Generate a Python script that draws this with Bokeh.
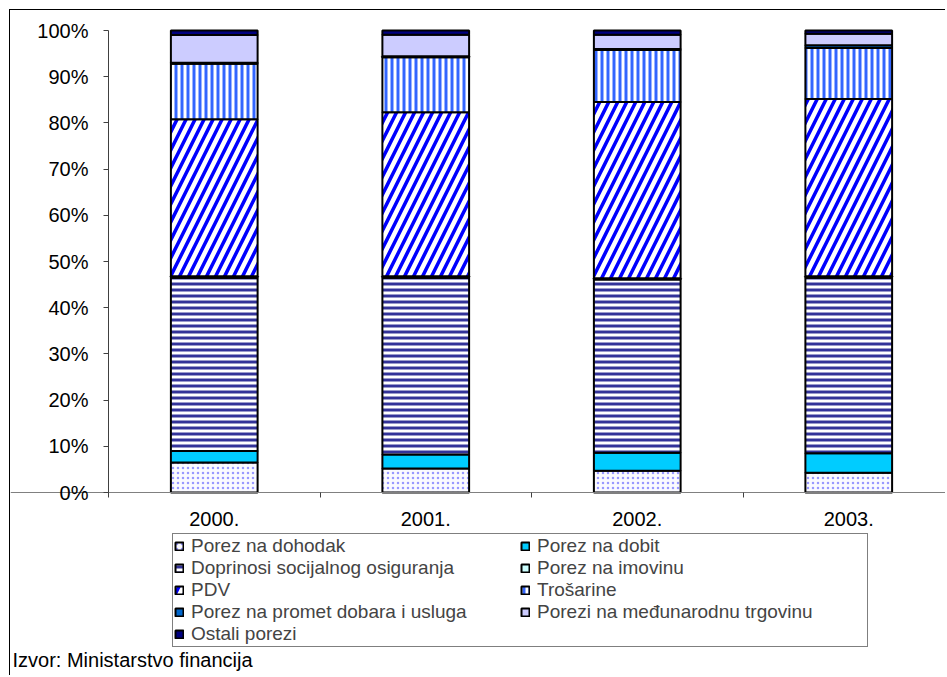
from bokeh.plotting import figure
from bokeh.models import (ColumnDataSource, Range1d, FixedTicker, NumeralTickFormatter,
                          Legend, LegendItem, Label)
from bokeh.embed import file_html
from bokeh.resources import INLINE

# ---------------- data (percent shares of total tax revenue) ----------------
years = ["2000.", "2001.", "2002.", "2003."]
series_names = ["Porez na dohodak", "Porez na dobit", "Doprinosi socijalnog osiguranja",
                "Porez na imovinu", "PDV", "Trošarine", "Porez na promet dobara i usluga",
                "Porezi na međunarodnu trgovinu", "Ostali porezi"]
porez_na_dohodak = [6.5, 5.2, 4.7, 4.3]
porez_na_dobit = [2.5, 3.0, 3.9, 4.2]
doprinosi = [37.5, 38.3, 37.5, 38.0]
porez_na_imovinu = [0.3, 0.3, 0.3, 0.3]
pdv = [34.0, 35.5, 38.1, 38.4]
trosarine = [12.0, 11.9, 11.3, 11.0]
porez_na_promet = [0.2, 0.2, 0.2, 0.6]
medunarodna_trgovina = [6.0, 4.7, 3.1, 2.5]
ostali_porezi = [1.0, 0.9, 0.9, 0.7]
source_note = "Izvor: Ministarstvo financija"

values = [porez_na_dohodak, porez_na_dobit, doprinosi, porez_na_imovinu, pdv,
          trosarine, porez_na_promet, medunarodna_trgovina, ostali_porezi]

# 100 % stacked: normalise every year to its total
totals = [sum(v[i] for v in values) for i in range(len(years))]
keys = ["s%d" % k for k in range(len(values))]
data = {"x": [i + 0.5 for i in range(len(years))]}
for k, v in zip(keys, values):
    data[k] = [v[i] / totals[i] for i in range(len(years))]
src = ColumnDataSource(data)

# ---------------- layout (pixels) ----------------
W, H = 936, 666            # canvas placed at (10, 10) on the page
AXIS_X = 98                # y axis position inside the canvas
CAT_PX = 211.5             # width of one category
TOP_PX = 20                # 100 % line below the canvas top
ZERO_PX = 482              # 0 % line below the canvas top
PCT_PX = ZERO_PX - TOP_PX

x_range = Range1d(-AXIS_X / CAT_PX, (W - AXIS_X) / CAT_PX)
y_range = Range1d(-(H - ZERO_PX) / PCT_PX, 1 + TOP_PX / PCT_PX)

# ---------------- styles ----------------
fills = ["#FAFAFF", "#00CCFF", "white", "#CCFFFF", "white", "white", "#0066CC", "#CCCCFF", "#000080"]
hatches = [".", " ", "-", " ", "/", "|", " ", " ", " "]
hatch_colors = ["#9999FF", "black", "#333399", "black", "#0000FF", "#3366FF", "black", "black", "black"]
hatch_scales = [5, 6, 6, 6, 18, 6, 6, 6, 6]
hatch_weights = [3, 1, 3, 1, 3.5, 3, 1, 1, 1]

p = figure(width=W, height=H, output_backend="svg", toolbar_location=None,
           x_range=x_range, y_range=y_range,
           min_border_left=0, min_border_right=0, min_border_top=0, min_border_bottom=0)
p.styles = {"margin-left": "9px", "margin-top": "9px",
            "border-left": "1px solid black", "border-top": "1px solid black"}
p.outline_line_color = None
p.xgrid.visible = False
p.ygrid.visible = False
p.background_fill_color = "white"
p.border_fill_color = "white"

renderers = p.vbar_stack(keys, x="x", width=0.41, source=src,
                         fill_color=fills, line_color="black", line_width=2,
                         hatch_pattern=hatches, hatch_color=hatch_colors,
                         hatch_scale=hatch_scales, hatch_weight=hatch_weights)

# ---------------- axes ----------------
yax = p.yaxis[0]
yax.fixed_location = 0
yax.bounds = (0, 1)
yax.ticker = FixedTicker(ticks=[i / 10 for i in range(11)])
yax.formatter = NumeralTickFormatter(format="0%")
yax.axis_line_color = "#404040"
yax.major_tick_line_color = "#404040"
yax.major_tick_out = 5
yax.major_tick_in = 0
yax.minor_tick_out = 0
yax.minor_tick_in = 0
yax.major_label_standoff = 15
yax.major_label_text_font = "Liberation Sans"
yax.major_label_text_font_size = "20px"
yax.major_label_text_color = "black"

xax = p.xaxis[0]
xax.fixed_location = 0
centers = [i + 0.5 for i in range(len(years))]
xax.ticker = FixedTicker(ticks=centers, minor_ticks=[i for i in range(len(years) + 1)])
xax.major_label_overrides = {c: y for c, y in zip(centers, years)}
xax.axis_line_color = "#808080"
xax.major_tick_out = 0
xax.major_tick_in = 0
xax.minor_tick_out = 5
xax.minor_tick_in = 0
xax.minor_tick_line_color = "#404040"
xax.major_label_standoff = 14
xax.major_label_text_font = "Liberation Sans"
xax.major_label_text_font_size = "20px"
xax.major_label_text_color = "black"

# ---------------- legend (row-wise in 2 columns) ----------------
items = [LegendItem(label=n, renderers=[r]) for n, r in zip(series_names, renderers)]
order = [0, 2, 4, 6, 8, 1, 3, 5, 7]
legend = Legend(items=[items[i] for i in order], ncols=2, location=(162, 29),
                border_line_color="black", border_line_width=1,
                background_fill_color="white", background_fill_alpha=1,
                padding=1, spacing=0, margin=0,
                glyph_width=10, glyph_height=10, label_standoff=7,
                label_width=329, label_height=19,
                label_text_font="Liberation Sans", label_text_font_size="19px")
p.add_layout(legend, "center")

p.add_layout(Label(x=2, y=17, x_units="screen", y_units="screen", text=source_note,
                   text_font="Liberation Sans", text_font_size="20px",
                   text_baseline="middle", text_color="black"))

open("out.html", "w").write(file_html(p, INLINE))
